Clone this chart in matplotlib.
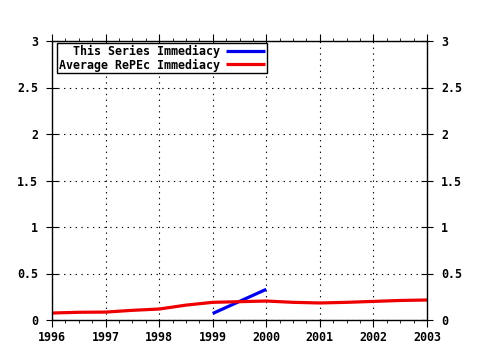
import matplotlib
matplotlib.use("Agg")
import matplotlib.pyplot as plt
from matplotlib.ticker import MultipleLocator, FuncFormatter

series_years = [1999, 2000]
series_values = [0.07, 0.33]
avg_years = [1996, 1996.5, 1997, 1997.5, 1998, 1998.5, 1999, 1999.5, 2000,
             2000.5, 2001, 2001.5, 2002, 2002.5, 2003]
avg_values = [0.075, 0.083, 0.085, 0.104, 0.118, 0.16, 0.19, 0.197, 0.204,
              0.19, 0.183, 0.19, 0.2, 0.21, 0.215]
series_label = "  This Series Immediacy"
avg_label = "Average RePEc Immediacy"

plt.rcParams['font.family'] = ['DejaVu Sans Mono']
plt.rcParams['font.weight'] = 'bold'
fs = 8.4

fig = plt.figure(figsize=(4.8, 3.5), dpi=100)
ax = fig.add_axes([52/480, 30/350, 375/480, 279/350])
ax.plot(series_years, series_values, color='#0000ee', lw=2.3, solid_capstyle='butt', label=series_label)
ax.plot(avg_years, avg_values, color='#ee0000', lw=2.3, solid_capstyle='butt', label=avg_label)

ax.set_xlim(1996, 2003)
ax.set_ylim(0, 3)
ax.xaxis.set_major_locator(MultipleLocator(1))
ax.xaxis.set_minor_locator(MultipleLocator(0.25))
ax.yaxis.set_major_locator(MultipleLocator(0.5))
ax.yaxis.set_major_formatter(FuncFormatter(lambda v, p: ('%g' % v)))
ax.xaxis.set_major_formatter(FuncFormatter(lambda v, p: '%d' % round(v)))
ax.grid(True, which='major', color='black', linestyle=(0, (1.2, 4)), lw=0.8)
ax.tick_params(axis='x', which='major', direction='out', length=5, top=True, labelsize=fs, pad=3)
ax.tick_params(axis='x', which='minor', direction='out', length=2, top=True)
ax.tick_params(axis='y', which='major', direction='inout', length=8, right=True, labelright=True, labelsize=fs, pad=6)
for s in ax.spines.values():
    s.set_linewidth(1)
ax.set_facecolor('white')

leg = ax.legend(loc='upper left', bbox_to_anchor=(5/375, 1 - 2/279), markerfirst=False,
                frameon=True, fancybox=False, edgecolor='black', framealpha=1,
                fontsize=fs, handlelength=3.4, handletextpad=0.5, borderpad=0.15,
                labelspacing=0.05, borderaxespad=0)
leg.get_frame().set_linewidth(1)
for t in leg.get_texts():
    t.set_fontweight('bold')

fig.savefig('out.png', dpi=100)
